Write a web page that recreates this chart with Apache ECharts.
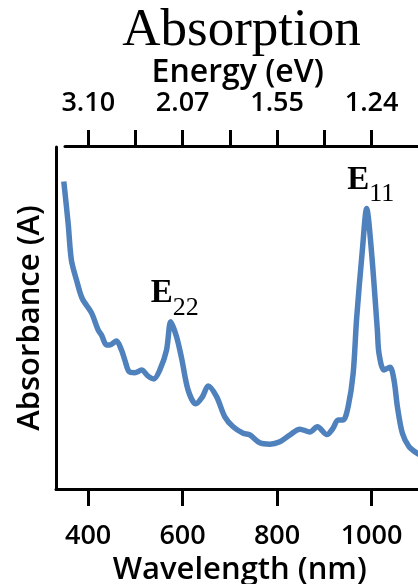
<!DOCTYPE html>
<html>
<head>
<meta charset="utf-8">
<script src="https://cdn.jsdelivr.net/npm/echarts@6/dist/echarts.min.js"></script>
<style>
  html, body { margin: 0; padding: 0; background: #fff; }
  #chart { width: 418px; height: 584px; }
</style>
</head>
<body>
<div id="chart"></div>
<script>
// Absorption spectrum: wavelength (nm) vs absorbance (a.u.)
const wavelength = [348.5, 357.7, 364.5, 375.4, 387.5, 407.2, 421.2, 428.4, 439.0, 446.0,
  460.1, 470.7, 477.7, 486.8, 498.9, 513.1, 527.0, 539.1, 551.8, 566.0,
  575.0, 587.2, 597.8, 611.7, 628.0, 642.2, 654.1, 671.9, 689.4, 707.0,
  728.2, 742.4, 763.5, 784.7, 805.9, 827.1, 848.2, 869.4, 885.3, 905.4,
  918.1, 929.3, 939.9, 950.5, 961.1, 968.5, 980.6, 989.7, 999.6, 1012.3,
  1015.7, 1026.3, 1039.0, 1047.5, 1054.7, 1065.3, 1079.3, 1097.1, 1110.0];
const absorbance = [0.899, 0.777, 0.670, 0.611, 0.557, 0.515, 0.465, 0.450, 0.421, 0.421,
  0.433, 0.406, 0.377, 0.343, 0.340, 0.348, 0.330, 0.322, 0.348, 0.406,
  0.489, 0.445, 0.383, 0.289, 0.249, 0.270, 0.301, 0.270, 0.211, 0.182,
  0.163, 0.158, 0.135, 0.131, 0.138, 0.158, 0.175, 0.167, 0.182, 0.159,
  0.177, 0.202, 0.202, 0.241, 0.338, 0.500, 0.699, 0.820, 0.699, 0.465,
  0.397, 0.348, 0.356, 0.319, 0.241, 0.163, 0.124, 0.104, 0.095];

// Bottom axis ticks (nm) and top axis ticks (nm, labelled in eV)
const wavelengthTicks = [400, 600, 800, 1000];
const energyTickPositions = [400, 500, 600, 700, 800, 900, 1000];
const energyLabelPositions = [400, 600, 800, 1000];

// Transition peaks: [name, subscript, wavelength, absorbance]
const peaks = [
  ['E', '22', 575.0, 0.489],
  ['E', '11', 989.7, 0.820]
];

const sansFont = "'Open Sans', 'Liberation Sans', sans-serif";
const serifFont = "'Liberation Serif', 'DejaVu Serif', serif";

const chart = echarts.init(document.getElementById('chart'), null, { renderer: 'canvas' });

const axisLine = { show: true, onZero: false, lineStyle: { color: '#000', width: 3 } };

chart.setOption({
  animation: false,
  backgroundColor: '#fff',
  graphic: [{
    type: 'text',
    x: 241.5,
    y: 5,
    style: {
      text: 'Absorption',
      font: '53px ' + serifFont,
      fill: '#000',
      align: 'center',
      verticalAlign: 'top'
    }
  }],
  grid: [
    { left: 56, right: -5.5, top: 147, bottom: 95, outerBoundsMode: 'none', containLabel: false },
    { left: 65, right: -5.5, top: 146, height: 10, outerBoundsMode: 'none', containLabel: false }
  ],
  xAxis: [{
    type: 'value',
    gridIndex: 0,
    position: 'bottom',
    min: 332,
    max: 1110,
    axisLine: axisLine,
    splitLine: { show: false },
    axisTick: {
      show: true, length: 17, customValues: wavelengthTicks,
      lineStyle: { color: '#000', width: 3 }
    },
    axisLabel: {
      customValues: wavelengthTicks, margin: 34,
      color: '#000', fontSize: 27, fontWeight: 600, fontFamily: sansFont,
      formatter: v => String(v)
    },
    name: 'Wavelength (nm)',
    nameLocation: 'middle',
    nameGap: 47,
    nameTextStyle: { color: '#000', fontSize: 31, fontWeight: 600, fontFamily: sansFont }
  }, {
    type: 'value',
    gridIndex: 1,
    position: 'top',
    min: 350.7,
    max: 1110,
    axisLine: axisLine,
    splitLine: { show: false },
    axisTick: {
      show: true, length: 16, customValues: energyTickPositions,
      lineStyle: { color: '#000', width: 3 }
    },
    axisLabel: {
      customValues: energyLabelPositions, margin: 29,
      color: '#000', fontSize: 27, fontWeight: 600, fontFamily: sansFont,
      formatter: v => (1240 / v).toFixed(2)
    },
    name: 'Energy (eV)',
    nameLocation: 'middle',
    nameGap: 44.5,
    nameTextStyle: {
      color: '#000', fontSize: 32, fontWeight: 600, fontFamily: sansFont,
      padding: [0, 13, 0, 0]
    }
  }],
  yAxis: [{
    type: 'value',
    gridIndex: 0,
    min: 0,
    max: 1,
    axisLine: axisLine,
    axisTick: { show: false },
    axisLabel: { show: false },
    splitLine: { show: false },
    name: 'Absorbance (A)',
    nameLocation: 'middle',
    nameGap: 10,
    nameTextStyle: { color: '#000', fontSize: 31, fontWeight: 600, fontFamily: sansFont }
  }, {
    type: 'value',
    gridIndex: 1,
    show: false
  }],
  series: [{
    type: 'line',
    xAxisIndex: 0,
    yAxisIndex: 0,
    data: wavelength.map((w, i) => [w, absorbance[i]]),
    showSymbol: false,
    smooth: 0.3,
    lineStyle: { color: '#4F81BD', width: 5.5 },
    clip: true,
    markPoint: {
      symbol: 'circle',
      symbolSize: 0,
      data: peaks.map(p => ({
        coord: [p[2], p[3]],
        value: p[0] + p[1],
        label: {
          show: true,
          position: 'top',
          distance: 1,
          offset: [4, 0],
          formatter: '{e|' + p[0] + '}{s|' + p[1] + '}',
          rich: {
            e: { fontFamily: serifFont, fontSize: 33, fontWeight: 'bold', color: '#000' },
            s: { fontFamily: serifFont, fontSize: 26, color: '#000',
                 verticalAlign: 'bottom', lineHeight: 55 }
          }
        }
      }))
    }
  }]
});
</script>
</body>
</html>
